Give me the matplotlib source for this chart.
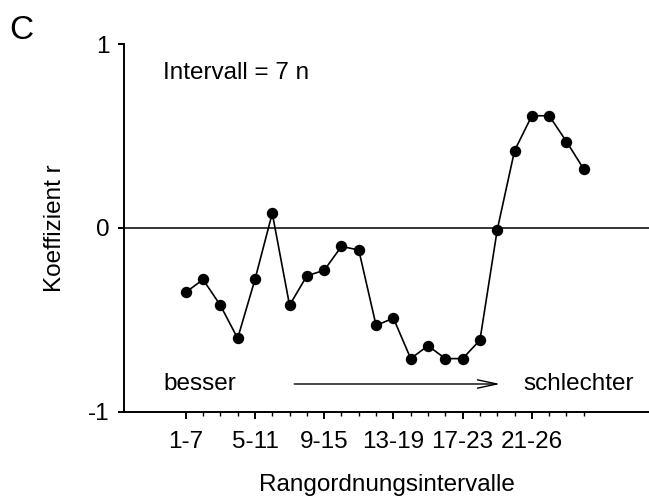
import matplotlib.pyplot as plt
import numpy as np

plt.rcParams['font.family'] = ['Liberation Sans', 'DejaVu Sans']

# Korrelationskoeffizient je gleitendem Rangordnungsintervall (Breite 7)
positions = np.arange(1, 25)
r_values = [-0.35, -0.28, -0.42, -0.60, -0.28, 0.08, -0.42, -0.26, -0.23, -0.10,
            -0.12, -0.53, -0.49, -0.71, -0.64, -0.71, -0.71, -0.61, -0.01, 0.42,
            0.61, 0.61, 0.47, 0.32]
tick_pos = [1, 5, 9, 13, 17, 21]
tick_labels = ['1-7', '5-11', '9-15', '13-19', '17-23', '21-26']

fs = 17.5

fig = plt.figure(figsize=(6.49, 5.03), dpi=100)
ax = fig.add_axes([0.191, 0.181, 0.809, 0.7315])

ax.axhline(0, color='black', lw=1.1, zorder=1)
ax.plot(positions, r_values, color='black', lw=1.2, marker='o', ms=7.2, zorder=3)

ax.set_xlim(-2.57, 27.77)
ax.set_ylim(-1, 1)
ax.set_yticks([-1, 0, 1])
ax.set_yticklabels(['-1', '0', '1'])
ax.set_xticks(tick_pos)
ax.set_xticklabels(tick_labels)
ax.set_xticks(positions, minor=True)

for s in ['top', 'right']:
    ax.spines[s].set_visible(False)
for s in ['left', 'bottom']:
    ax.spines[s].set_linewidth(1.4)

ax.tick_params(axis='both', which='major', labelsize=fs, direction='out', width=1.4)
ax.tick_params(axis='y', length=4.5, pad=6)
ax.tick_params(axis='x', which='major', length=5, pad=9)
ax.tick_params(axis='x', which='minor', length=3, width=1.0)

ax.set_ylabel('Koeffizient r', fontsize=fs, labelpad=16)
ax.set_xlabel('Rangordnungsintervalle', fontsize=fs, labelpad=15)

ax.text(-0.31, 0.84, 'Intervall = 7 n', fontsize=fs, va='center', ha='left')
ax.text(-0.31, -0.848, 'besser', fontsize=fs, va='center', ha='left')
ax.text(20.5, -0.848, 'schlechter', fontsize=fs, va='center', ha='left')
ax.annotate('', xy=(19.17, -0.848), xytext=(7.27, -0.848),
            arrowprops=dict(arrowstyle='->,head_length=1.4,head_width=0.3',
                            color='black', lw=1.0, shrinkA=0, shrinkB=0))

fig.text(0.015, 0.94, 'C', fontsize=24, ha='left', va='center')

fig.savefig('out.png', dpi=100)
